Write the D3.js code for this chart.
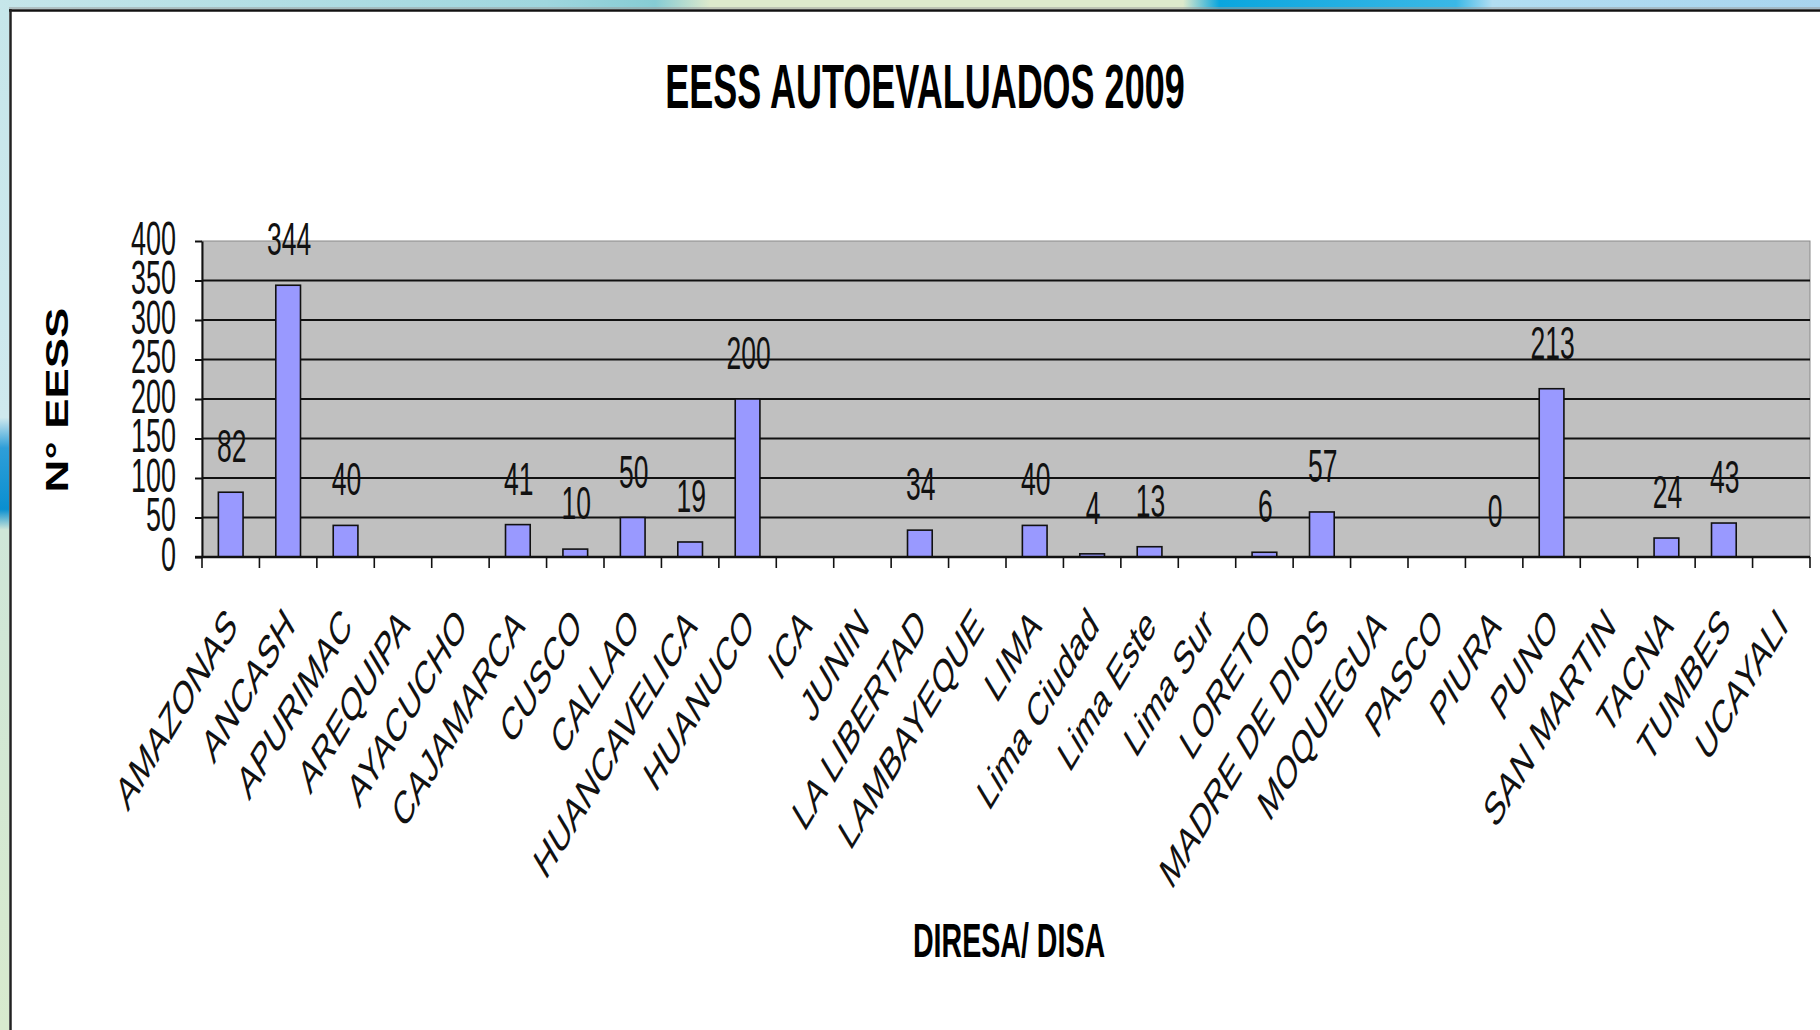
<!DOCTYPE html>
<html>
<head>
<meta charset="utf-8">
<script src="https://cdn.jsdelivr.net/npm/d3@7"></script>
<style>
  html, body { margin: 0; padding: 0; background: #ffffff; }
  svg { display: block; font-family: "Liberation Sans", Arial, sans-serif; }
</style>
</head>
<body>
<svg id="canvas"></svg>
<script>
// Categories (DIRESA / DISA).
var categories = ['AMAZONAS', 'ANCASH', 'APURIMAC', 'AREQUIPA', 'AYACUCHO', 'CAJAMARCA',
  'CUSCO', 'CALLAO', 'HUANCAVELICA', 'HUANUCO', 'ICA', 'JUNIN', 'LA LIBERTAD',
  'LAMBAYEQUE', 'LIMA', 'Lima Ciudad', 'Lima Este', 'Lima Sur', 'LORETO',
  'MADRE DE DIOS', 'MOQUEGUA', 'PASCO', 'PIURA', 'PUNO', 'SAN MARTIN', 'TACNA',
  'TUMBES', 'UCAYALI'];

// Number of self evaluated facilities (null = no data).
var values = [82, 344, 40, null, null, 41, 10, 50, 19, 200, null, null, 34, null,
  40, 4, 13, null, 6, 57, null, null, 0, 213, null, 24, 43, null];

// Y axis tick labels.
var yTicks = [0, 50, 100, 150, 200, 250, 300, 350, 400];

// Canvas and graph settings.
var canvas = {
  dim: { w: 1820, h: 1030 },
  plot: { left: 202, right: 1810, top: 241, bottom: 557 },
  stretch: 1.76   // vertical stretch of the original picture
};

var svg = d3.select('#canvas')
            .attr('width', canvas.dim.w)
            .attr('height', canvas.dim.h);

////////////////////////////////////////////////////////////////////////////////
// Slide background and frame
////////////////////////////////////////////////////////////////////////////////
var defs = svg.append('defs');

var topGrad = defs.append('linearGradient').attr('id', 'topGrad');
[[0, '#c6e6ea'], [0.3, '#9fd6de'], [0.36, '#86ccd4'], [0.39, '#dde9cc'],
 [0.65, '#dde9cc'], [0.67, '#0aa6de'], [0.8, '#3bb8e6'], [0.82, '#b2def2'], [1, '#a9d4ee']]
  .forEach(function(s) {
    topGrad.append('stop').attr('offset', s[0]).attr('stop-color', s[1]);
  });

var leftGrad = defs.append('linearGradient').attr('id', 'leftGrad')
                   .attr('x1', 0).attr('x2', 0).attr('y1', 0).attr('y2', 1);
[[0, '#c6e6ea'], [0.4, '#cfe9ee'], [0.43, '#2e9ed8'], [0.49, '#0a8fd0'], [0.51, '#cfe6d8'], [1, '#d8eace']]
  .forEach(function(s) {
    leftGrad.append('stop').attr('offset', s[0]).attr('stop-color', s[1]);
  });

svg.append('rect').attr('x', 0).attr('y', 0).attr('width', canvas.dim.w).attr('height', 9)
   .attr('fill', 'url(#topGrad)');
svg.append('rect').attr('x', 0).attr('y', 9).attr('width', 9).attr('height', canvas.dim.h - 9)
   .attr('fill', 'url(#leftGrad)');

// White panel.
svg.append('rect').attr('x', 9).attr('y', 9)
   .attr('width', canvas.dim.w - 9).attr('height', canvas.dim.h - 9)
   .attr('fill', '#ffffff');

// Panel frame lines.
svg.append('line').attr('x1', 9).attr('x2', canvas.dim.w).attr('y1', 8).attr('y2', 8)
   .attr('stroke', '#9a9a9a').attr('stroke-width', 1);
svg.append('line').attr('x1', 9).attr('x2', canvas.dim.w).attr('y1', 10.5).attr('y2', 10.5)
   .attr('stroke', '#111111').attr('stroke-width', 2.5);
svg.append('line').attr('x1', 10.5).attr('x2', 10.5).attr('y1', 9).attr('y2', canvas.dim.h)
   .attr('stroke', '#222222').attr('stroke-width', 2.5);

////////////////////////////////////////////////////////////////////////////////
// Scales
////////////////////////////////////////////////////////////////////////////////
var x = d3.scaleBand()
          .domain(categories)
          .range([canvas.plot.left, canvas.plot.right]);

var y = d3.scaleLinear()
          .domain([0, 400])
          .range([canvas.plot.bottom, canvas.plot.top]);

var barW = x.bandwidth() * 0.43;
var k = canvas.stretch;

////////////////////////////////////////////////////////////////////////////////
// Plot area
////////////////////////////////////////////////////////////////////////////////
svg.append('rect')
   .attr('x', canvas.plot.left).attr('y', canvas.plot.top)
   .attr('width', canvas.plot.right - canvas.plot.left)
   .attr('height', canvas.plot.bottom - canvas.plot.top)
   .attr('fill', '#c0c0c0')
   .attr('stroke', '#8a8a8a').attr('stroke-width', 1);

// Gridlines.
svg.append('g').selectAll('line')
   .data(yTicks.filter(function(t) { return t > 0 && t < 400; }))
   .enter().append('line')
   .attr('x1', canvas.plot.left).attr('x2', canvas.plot.right)
   .attr('y1', function(d) { return y(d); }).attr('y2', function(d) { return y(d); })
   .attr('stroke', '#111111').attr('stroke-width', 2);

// Bars.
svg.append('g').selectAll('rect')
   .data(categories.map(function(c, i) { return { cat: c, v: values[i] }; })
                   .filter(function(d) { return d.v !== null && d.v > 0; }))
   .enter().append('rect')
   .attr('x', function(d) { return x(d.cat) + (x.bandwidth() - barW) / 2; })
   .attr('y', function(d) { return y(d.v); })
   .attr('width', barW)
   .attr('height', function(d) { return y(0) - y(d.v); })
   .attr('fill', '#9999ff')
   .attr('stroke', '#111111').attr('stroke-width', 1.6);

// Value labels.
svg.append('g').selectAll('text')
   .data(categories.map(function(c, i) { return { cat: c, v: values[i] }; })
                   .filter(function(d) { return d.v !== null; }))
   .enter().append('text')
   .attr('transform', function(d) {
     return 'translate(' + (x(d.cat) + x.bandwidth() / 2 + 1) + ',' + (y(d.v) - 30) + ') scale(1,' + k + ')';
   })
   .attr('text-anchor', 'middle')
   .attr('font-size', 26.5)
   .attr('fill', '#111111')
   .text(function(d) { return d.v; });

////////////////////////////////////////////////////////////////////////////////
// Axes
////////////////////////////////////////////////////////////////////////////////
var yAxis = svg.append('g')
   .attr('transform', 'translate(' + canvas.plot.left + ',0)')
   .call(d3.axisLeft(y).tickValues(yTicks).tickSizeOuter(0).tickSizeInner(7));

yAxis.select('.domain').attr('stroke', '#111111').attr('stroke-width', 2);
yAxis.selectAll('.tick line').attr('stroke', '#111111').attr('stroke-width', 2);
yAxis.selectAll('.tick text')
     .attr('x', null).attr('dy', null)
     .attr('transform', 'translate(-26,13) scale(1,' + k + ')')
     .attr('font-size', 27)
     .attr('font-family', '"Liberation Sans", Arial, sans-serif')
     .attr('fill', '#111111');

// X axis labels (band centres).
var xAxis = svg.append('g')
   .attr('transform', 'translate(0,' + canvas.plot.bottom + ')')
   .call(d3.axisBottom(x).tickSize(0));

xAxis.select('.domain').remove();
xAxis.selectAll('.tick text')
     .attr('y', null).attr('dy', null)
     .attr('text-anchor', 'end')
     .attr('transform', 'translate(8,71) scale(1,1.66) rotate(-45)')
     .attr('font-size', 28)
     .attr('font-family', '"Liberation Sans", Arial, sans-serif')
     .attr('fill', '#111111');

// X axis baseline and ticks on band edges.
svg.append('line')
   .attr('x1', canvas.plot.left - 7).attr('x2', canvas.plot.right)
   .attr('y1', canvas.plot.bottom).attr('y2', canvas.plot.bottom)
   .attr('stroke', '#111111').attr('stroke-width', 2.5);

svg.append('g').selectAll('line')
   .data(categories.map(function(c) { return x(c); }).concat([canvas.plot.right]))
   .enter().append('line')
   .attr('x1', function(d) { return d; }).attr('x2', function(d) { return d; })
   .attr('y1', canvas.plot.bottom).attr('y2', canvas.plot.bottom + 11)
   .attr('stroke', '#111111').attr('stroke-width', 1.6);

////////////////////////////////////////////////////////////////////////////////
// Titles
////////////////////////////////////////////////////////////////////////////////
svg.append('text')
   .attr('transform', 'translate(925,108) scale(1,1.75)')
   .attr('text-anchor', 'middle')
   .attr('font-size', 36).attr('font-weight', 'bold')
   .attr('fill', '#000000')
   .text('EESS AUTOEVALUADOS 2009');

svg.append('text')
   .attr('transform', 'translate(1009,957) scale(1,1.71)')
   .attr('text-anchor', 'middle')
   .attr('font-size', 28.6).attr('font-weight', 'bold')
   .attr('fill', '#000000')
   .text('DIRESA/ DISA');

svg.append('text')
   .attr('transform', 'translate(68,400) scale(1,1.42) rotate(-90)')
   .attr('text-anchor', 'middle')
   .attr('font-size', 32).attr('font-weight', 'bold')
   .attr('fill', '#000000')
   .text('N° EESS');
</script>
</body>
</html>
